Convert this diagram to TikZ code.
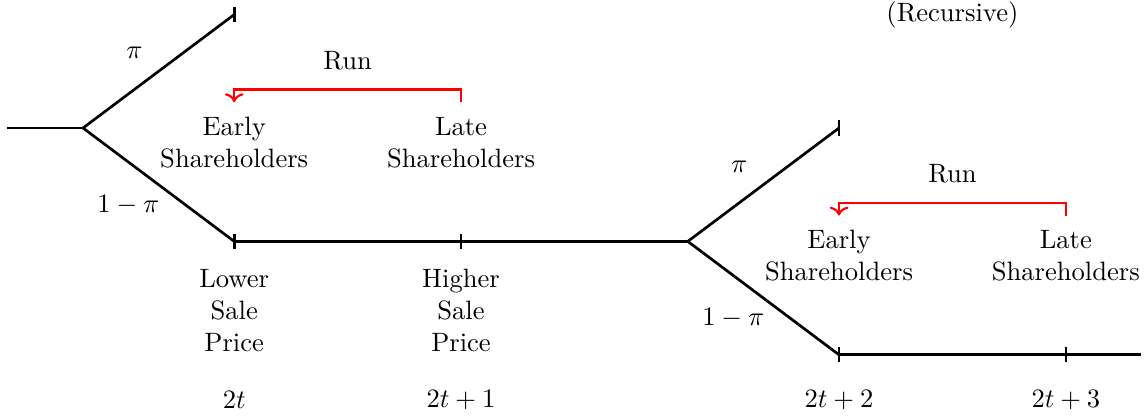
\documentclass[tikz,border=0pt]{standalone}
\usetikzlibrary{arrows.meta, positioning}

\begin{document}
\begin{tikzpicture}[
        line/.style={line width=1pt},
        run/.style={->, thick, red, shorten >=2pt, shorten <=2pt},
        txt/.style={align=center},
        tick/.style={line width=1pt}
    ]
        \useasboundingbox (-1.098,-3.836) rectangle (14.087,1.693);

        \coordinate (s0) at (-1,0);
        \coordinate (b1) at (0,0);
        \coordinate (up1) at (2,1.5);
        \coordinate (lo1) at (2,-1.5);
        \coordinate (hi1) at (5,-1.5);
        \coordinate (b2) at (8,-1.5);
        \coordinate (up2) at (10,0);
        \coordinate (lo2) at (10,-3);
        \coordinate (hi2) at (13,-3);
        \coordinate (e2) at (14,-3);

        \draw[line] (s0) -- (b1);
        \draw[line] (b1) -- (up1);
        \draw[line] (b1) -- (lo1);
        \draw[line] (lo1) -- (hi1);
        \draw[line] (hi1) -- (b2);
        \draw[line] (b2) -- (up2);
        \draw[line] (b2) -- (lo2);
        \draw[line] (lo2) -- (hi2);
        \draw[line] (hi2) -- (e2);

        \foreach \p in {up1, lo1, hi1, up2, lo2, hi2}
            \draw[tick] ([yshift=-0.1cm]\p) -- ([yshift=0.1cm]\p);

        % first period
        \node (pa) at (0.68,0.99) {$\pi$};
        \node (pb) at (0.6,-1.02) {$1-\pi$};
        \node (run1) at (3.5,0.89) {Run};
        \node[txt] (early1) at (2,-0.19) {Early\\Shareholders};
        \node[txt] (late1) at (5,-0.19) {Late\\Shareholders};
        \node[txt] (low) at (2,-2.41) {Lower\\Sale\\Price};
        \node[txt] (high) at (5,-2.41) {Higher\\Sale\\Price};
        \draw[run] (late1.north) -- ++(0,0.24) -| (early1.north);

        % second period
        \node (pc) at (8.68,-0.51) {$\pi$};
        \node (pd) at (8.6,-2.52) {$1-\pi$};
        \node (run2) at (11.5,-0.61) {Run};
        \node[txt] (early2) at (10,-1.69) {Early\\Shareholders};
        \node[txt] (late2) at (13,-1.69) {Late\\Shareholders};
        \draw[run] (late2.north) -- ++(0,0.24) -| (early2.north);
        \node (rec) at (11.5,1.49) {(Recursive)};

        % time axis
        \node (t0) at (2,-3.6) {$2t$};
        \node (t1) at (5,-3.6) {$2t+1$};
        \node (t2) at (10,-3.6) {$2t+2$};
        \node (t3) at (13,-3.6) {$2t+3$};
    \end{tikzpicture}
\end{document}
